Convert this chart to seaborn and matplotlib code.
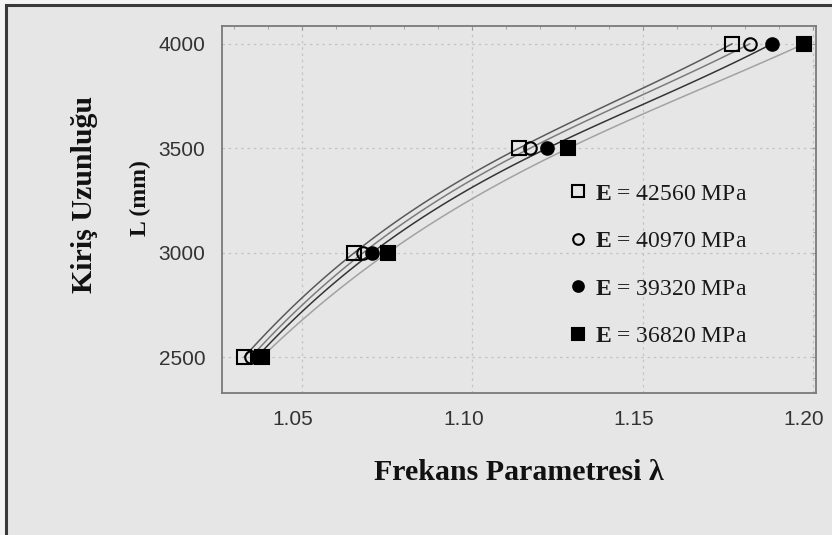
import matplotlib
matplotlib.use('Agg')
import matplotlib.pyplot as plt
import matplotlib.patches as mpatches
from matplotlib.transforms import ScaledTranslation
from matplotlib.ticker import MultipleLocator
import pandas as pd
import seaborn as sns

# Data
lengths = [2500, 3000, 3500, 4000]
lam_42560 = [1.0330, 1.0654, 1.1137, 1.1763]
lam_40970 = [1.0350, 1.0680, 1.1170, 1.1815]
lam_39320 = [1.0367, 1.0706, 1.1220, 1.1880]
lam_36820 = [1.0382, 1.0752, 1.1282, 1.1975]
labels = ['42560', '40970', '39320', '36820']

series = {
    '42560': dict(lam=lam_42560, marker='s', face='none', line='#5a5a5a'),
    '40970': dict(lam=lam_40970, marker='o', face='none', line='#7c7c7c'),
    '39320': dict(lam=lam_39320, marker='o', face='black', line='#353535'),
    '36820': dict(lam=lam_36820, marker='s', face='black', line='#a2a2a2'),
}

sns.set_style('white')
plt.rcParams['mathtext.fontset'] = 'custom'
plt.rcParams['mathtext.rm'] = 'Liberation Serif'
plt.rcParams['mathtext.bf'] = 'Liberation Serif:bold'

bg = '#e6e6e6'
fig = plt.figure(figsize=(8.32, 5.35), dpi=100, facecolor='#f4f4f4')
# outer panel frame (only left and top edges visible)
fig.patches.append(mpatches.Rectangle((6 / 832, -0.05), 1.1, 1 - 5 / 535 + 0.05,
                                      transform=fig.transFigure, facecolor=bg,
                                      edgecolor='#3a3a3a', linewidth=2.2, zorder=-1))

ax = fig.add_axes([222 / 832, 1 - 393 / 535, (816 - 222) / 832, (393 - 26) / 535])
ax.set_facecolor(bg)

for lab in labels:
    s = series[lab]
    df = pd.DataFrame({'lam': s['lam'], 'L': lengths})
    sns.regplot(data=df, x='lam', y='L', order=3, ci=None, truncate=True,
                scatter=False, ax=ax,
                line_kws=dict(color=s['line'], linewidth=1.1, zorder=2))
    ax.plot(df['lam'], df['L'], linestyle='none', marker=s['marker'],
            markersize=10 if s['marker'] == 's' else 9,
            markerfacecolor=s['face'], markeredgecolor='black',
            markeredgewidth=1.5, zorder=3,
            label=r'$\mathbf{E}$ = ' + lab + ' MPa')

ax.set_xlim(1.0265, 1.2009)
ax.set_ylim(2328, 4085)
ax.set_xticks([1.05, 1.10, 1.15, 1.20])
ax.set_xticklabels(['1.05', '1.10', '1.15', '1.20'])
ax.set_yticks([2500, 3000, 3500, 4000])
ax.xaxis.set_minor_locator(MultipleLocator(0.01))
ax.yaxis.set_minor_locator(MultipleLocator(100))

ax.grid(True, which='major', color='#c4c4c4', linestyle=(0, (2, 3)), linewidth=0.9)
for sp in ax.spines.values():
    sp.set_color('#7a7a7a')
    sp.set_linewidth(1.3)

ax.tick_params(axis='both', which='major', direction='in', length=3,
               color='#9a9a9a', labelsize=15, labelcolor='#333333', pad=12,
               top=True, right=True)
ax.tick_params(axis='both', which='minor', direction='in', length=2,
               color='#9a9a9a', top=True, right=True)
for t in ax.get_xticklabels() + ax.get_yticklabels():
    t.set_family('Liberation Sans')
for t in ax.get_xticklabels():
    t.set_transform(t.get_transform() + ScaledTranslation(-0.09, 0, fig.dpi_scale_trans))

ax.set_xlabel('Frekans Parametresi λ', family='Liberation Serif', weight='bold',
              fontsize=21.5, labelpad=22, color='#111111')
ax.set_ylabel('')
fig.text(140 / 832, 1 - 198 / 535, 'L (mm)', rotation=90, ha='center',
         va='center', family='Liberation Serif', weight='bold', fontsize=17,
         color='#111111')
fig.text(85 / 832, 1 - 195 / 535, 'Kiriş Uzunluğu', rotation=90, ha='center',
         va='center', family='Liberation Serif', weight='bold', fontsize=21.5,
         color='#111111')

leg = ax.legend(loc='upper left', bbox_to_anchor=(0.565, 0.598), frameon=False,
                prop=dict(family='Liberation Serif', size=17),
                labelspacing=1.1, handletextpad=0.3, handlelength=0.9,
                borderaxespad=0, markerscale=0.85)
for t in leg.get_texts():
    t.set_color('#1a1a1a')

plt.savefig('out.png', dpi=100, facecolor=fig.get_facecolor())
